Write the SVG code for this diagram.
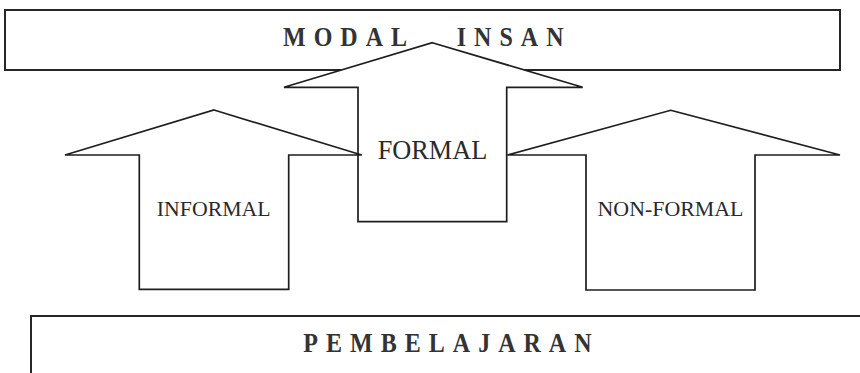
<svg xmlns="http://www.w3.org/2000/svg" width="860" height="373" viewBox="0 0 860 373">
  <style>
    .box { fill: #fff; stroke: #262626; stroke-width: 2; }
    .arrow { fill: #fff; stroke: #1e1e1e; stroke-width: 1.7; stroke-linejoin: miter; }
    .title { font-family: "Liberation Serif", "Times New Roman", serif; font-weight: bold; font-size: 27px; fill: #333; letter-spacing: 9px; }
    .label { font-family: "Liberation Serif", "Times New Roman", serif; fill: #2a2a2a; text-anchor: middle; }
  </style>
  <rect width="860" height="373" fill="#fff"/>

  <!-- outcome bar -->
  <g id="modal-insan">
    <rect class="box" x="5" y="10" width="835" height="60"/>
    <text class="title" transform="matrix(0.89 0 0 1 283 45.7)">MODAL</text>
    <text class="title" transform="matrix(0.89 0 0 1 456.7 45.7)">INSAN</text>
  </g>

  <!-- foundation bar, runs past the right and bottom edges -->
  <g id="pembelajaran">
    <rect class="box" x="31" y="316" width="836" height="62"/>
    <text class="title" transform="matrix(0.89 0 0 1 303.3 352.3)">PEMBELAJARAN</text>
  </g>

  <!-- central arrow, drawn over the outcome bar -->
  <g id="formal">
    <polygon class="arrow" points="432.3,42.7 582.7,87.3 506.7,87.3 506.7,221.7 358,221.7 358,87.3 284,87.3"/>
    <text class="label" x="432.5" y="159" font-size="26.3">FORMAL</text>
  </g>

  <g id="informal">
    <polygon class="arrow" points="214,110 361.7,155 288.7,155 288.7,289.3 139.3,289.3 139.3,155 65,155"/>
    <text class="label" x="213.7" y="216" font-size="21.8">INFORMAL</text>
  </g>

  <g id="non-formal">
    <polygon class="arrow" points="670.7,110.3 840,155 755,155 755,290 586,290 586,155 507.3,155"/>
    <text class="label" x="670.5" y="216" font-size="21.9">NON-FORMAL</text>
  </g>

  <g id="connectors"/>
</svg>
